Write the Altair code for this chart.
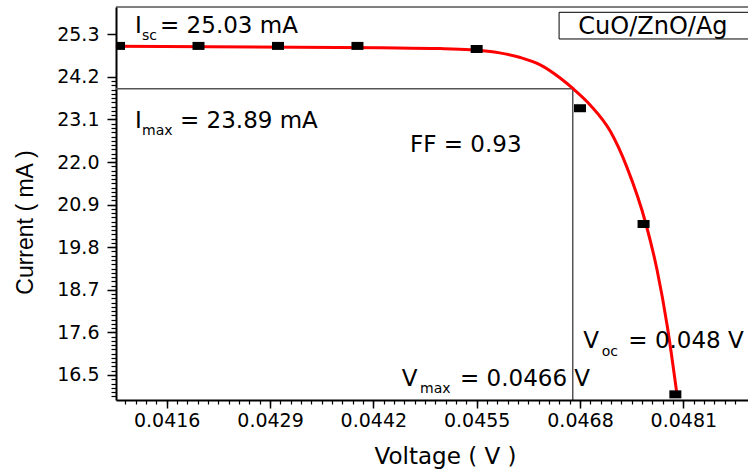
import altair as alt
import pandas as pd

# ---- measured data points (squares) ----
voltage_pts = [0.041, 0.042, 0.043, 0.044, 0.0455, 0.0468, 0.0476, 0.048]
current_pts = [25.0, 25.0, 25.0, 25.0, 24.92, 23.39, 20.40, 16.0]

# ---- fitted curve ----
curve_v = [0.04096, 0.04428, 0.04504, 0.04542, 0.04579, 0.04605, 0.04630, 0.04655,
           0.04671, 0.04693, 0.04718, 0.04739, 0.04763, 0.04777, 0.04790, 0.04802]
curve_i = [24.99, 24.95, 24.93, 24.90, 24.82, 24.70, 24.51, 24.17,
           23.90, 23.47, 22.80, 21.87, 20.40, 19.21, 17.74, 16.00]

# ---- max power point guide lines ----
vmax_line = 0.04671
imax_line = 23.895

# ---- axes ----
x_domain = [0.040962, 0.048914]
y_domain = [15.854, 26.005]
x_ticks = [0.0416, 0.0429, 0.0442, 0.0455, 0.0468, 0.0481]
y_ticks = [16.5, 17.6, 18.7, 19.8, 20.9, 22.0, 23.1, 24.2, 25.3]
x_minor = [round(0.0416 + k * 0.00013, 5) for k in range(-4, 56)]
x_minor = [v for v in x_minor if x_domain[0] <= v <= x_domain[1]]
y_minor = [round(16.5 + k * 0.11, 3) for k in range(-6, 70)]
y_minor = [v for v in y_minor if y_domain[0] <= v <= y_domain[1]]

# ---- annotation pieces (main text / subscripts) ----
ann_text = ["I", "= 25.03 mA", "I", "= 23.89 mA", "FF = 0.93",
            "V", "= 0.0466 V", "V", "= 0.048 V"]
ann_v = [0.041201, 0.041516, 0.041201, 0.041767, 0.044661,
         0.044557, 0.04529, 0.046842, 0.047408]
ann_i = [25.326, 25.326, 22.872, 22.872, 22.268,
         16.225, 16.225, 17.191, 17.191]

sub_text = ["sc", "max", "max", "oc"]
sub_v = [0.041289, 0.041289, 0.044787, 0.047073]
sub_i = [25.153, 22.699, 16.044, 16.992]

legend_label = ["CuO/ZnO/Ag"]
legend_v = [0.046779]
legend_i = [25.30]
box_v = [0.046537]
box_v2 = [0.04895]
box_i = [25.868]
box_i2 = [25.179]

FONT = "DejaVu Sans"
W, H = 632, 393

xs = alt.Scale(domain=x_domain, nice=False, zero=False)
ys = alt.Scale(domain=y_domain, nice=False, zero=False)

pts_df = pd.DataFrame({"V": voltage_pts, "I": current_pts})
curve_df = pd.DataFrame({"V": curve_v, "I": curve_i})
guide_df = pd.DataFrame({"V0": [x_domain[0]], "V": [vmax_line], "I": [imax_line], "I0": [y_domain[0]]})
ann_df = pd.DataFrame({"t": ann_text, "V": ann_v, "I": ann_i})
sub_df = pd.DataFrame({"t": sub_text, "V": sub_v, "I": sub_i})
leg_df = pd.DataFrame({"t": legend_label, "V": legend_v, "I": legend_i})
box_df = pd.DataFrame({"V": box_v, "V2": box_v2, "I": box_i, "I2": box_i2})

curve = alt.Chart(curve_df).mark_line(color="#ff0000", strokeWidth=3, interpolate="monotone").encode(
    x=alt.X("V:Q", scale=xs, axis=alt.Axis(
        values=x_ticks, format=".4f", orient="bottom", title="Voltage ( V )",
        tickSize=8, tickWidth=1.5, tickColor="black", domainColor="black", domainWidth=2,
        labelFont=FONT, labelFontSize=19, labelColor="black", labelPadding=3,
        labelOverlap=False, labelFlush=False, grid=False,
        titleFont=FONT, titleFontSize=23, titleFontWeight="normal", titleColor="black",
        titleX=329, titleY=63, titleBaseline="alphabetic", titleAlign="center")),
    y=alt.Y("I:Q", scale=ys, axis=alt.Axis(
        values=y_ticks, format=".1f", orient="left", title="Current ( mA )",
        tickSize=9, tickWidth=1.5, tickColor="black", domainColor="black", domainWidth=2,
        labelFont=FONT, labelFontSize=19, labelColor="black", labelPadding=8,
        labelOverlap=False, grid=False,
        titleFont="Liberation Sans", titleFontSize=23, titleFontWeight="normal", titleColor="black",
        titleX=-84, titleY=215, titleAngle=270, titleBaseline="alphabetic", titleAlign="center")),
)

minor = alt.Chart(pd.DataFrame({"V": [0.044], "I": [20.0]})).mark_point(opacity=0).encode(
    x=alt.X("V:Q", scale=xs, axis=alt.Axis(
        values=x_minor, orient="bottom", labels=False, domain=False, grid=False,
        tickSize=4, tickWidth=1.2, tickColor="black", title=None)),
    y=alt.Y("I:Q", scale=ys, axis=alt.Axis(
        values=y_minor, orient="left", labels=False, domain=False, grid=False,
        tickSize=5, tickWidth=1.2, tickColor="black", title=None)),
)

hline = alt.Chart(guide_df).mark_rule(color="#555555", strokeWidth=1.5).encode(
    x=alt.X("V0:Q", scale=xs, axis=None), x2="V:Q",
    y=alt.Y("I:Q", scale=ys, axis=None))
vline = alt.Chart(guide_df).mark_rule(color="black", strokeWidth=1).encode(
    x=alt.X("V:Q", scale=xs, axis=None),
    y=alt.Y("I:Q", scale=ys, axis=None), y2="I0:Q")

squares = alt.Chart(pts_df).mark_point(
    shape="M-1,-0.667L1,-0.667L1,0.667L-1,0.667Z", filled=True, size=144,
    color="black", opacity=1, clip=True).encode(
    x=alt.X("V:Q", scale=xs, axis=None), y=alt.Y("I:Q", scale=ys, axis=None))

ann = alt.Chart(ann_df).mark_text(font=FONT, fontSize=23, align="left", baseline="alphabetic",
                                  color="black").encode(
    x=alt.X("V:Q", scale=xs, axis=None), y=alt.Y("I:Q", scale=ys, axis=None), text="t:N")
sub = alt.Chart(sub_df).mark_text(font=FONT, fontSize=14, align="left", baseline="alphabetic",
                                  color="black").encode(
    x=alt.X("V:Q", scale=xs, axis=None), y=alt.Y("I:Q", scale=ys, axis=None), text="t:N")

box = alt.Chart(box_df).mark_rect(fill="white", stroke="black", strokeWidth=1, clip=True).encode(
    x=alt.X("V:Q", scale=xs, axis=None), x2="V2:Q",
    y=alt.Y("I:Q", scale=ys, axis=None), y2="I2:Q")
leg = alt.Chart(leg_df).mark_text(font=FONT, fontSize=24, align="left", baseline="alphabetic",
                                  color="black").encode(
    x=alt.X("V:Q", scale=xs, axis=None), y=alt.Y("I:Q", scale=ys, axis=None), text="t:N")

top = alt.Chart(pd.DataFrame({"a": [0]})).mark_rule(color="black", strokeWidth=1).encode(
    x=alt.value(0), x2=alt.value(W), y=alt.value(0))

chart = alt.layer(minor, hline, vline, curve, squares, ann, sub, box, leg, top).resolve_axis(
    x="independent", y="independent"
).properties(
    width=W, height=H, autosize="none",
    padding={"left": 116, "top": 7, "right": 0, "bottom": 71},
    background="white",
).configure_view(stroke=None)

chart.save("out.html", embed_options={"renderer": "svg", "actions": False})
